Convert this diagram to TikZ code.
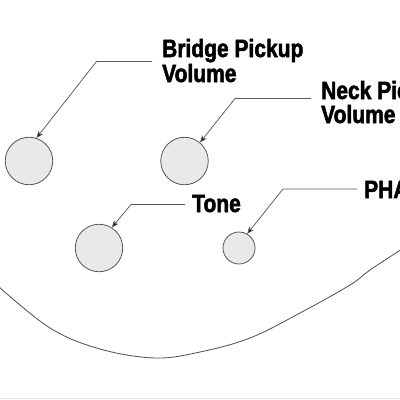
\documentclass[tikz,border=0pt]{standalone}
\usepackage{fontspec}
\newfontfamily\lblfont{Liberation Sans Bold}[FakeStretch=0.84,FakeBold=2]
\usetikzlibrary{arrows.meta}
\definecolor{knobfill}{HTML}{E9E9E9}
\definecolor{knobline}{HTML}{555555}
\definecolor{leadcol}{HTML}{5A5A5A}
\begin{document}
\begin{tikzpicture}[x=1pt,y=-1pt,
  knob/.style={circle,draw=knobline,fill=knobfill,line width=0.8pt,inner sep=0pt,minimum size=#1},
  lbl/.style={anchor=base west,inner sep=0pt,font=\lblfont\fontsize{25}{25}\selectfont,text=black},
  leader/.style={draw=leadcol,line width=0.75pt,-{Stealth[length=7pt,width=5.5pt,inset=1.5pt,fill=black]}}]
\useasboundingbox (0,0) rectangle (400,400);
\begin{scope}
\clip (0,0) rectangle (400,400);
% body outline
\draw[knobline,line width=0.85pt] plot[smooth,tension=0.6] coordinates
  {(-2,286) (50,328) (100,349) (155,358) (200,352) (250,338) (300,313) (350,285) (370,270) (402,249)};
\draw[gray!20,line width=1pt] (0,398.5) -- (400,398.5);
% knobs
\node[knob=47.5pt] (bv) at (29,161) {};
\node[knob=47.5pt] (nv) at (184.5,161) {};
\node[knob=47.5pt] (tn) at (99,248) {};
\node[knob=32pt] (ph) at (239,248) {};
% labels
\node[lbl] (bvt1) at (162,57) {Bridge Pickup};
\node[lbl] (bvt2) at (162,82) {Volume};
\node[lbl] (nvt1) at (321,99) {Neck Pickup};
\node[lbl] (nvt2) at (321,123) {Volume};
\node[lbl] (tnt) at (192,212) {Tone};
\node[lbl] (pht) at (364,198) {PHASE};
% leader coordinates
\coordinate (bvA) at (152,61.5);
\coordinate (bvB) at (96.5,61.5);
\coordinate (nvA) at (311,98.5);
\coordinate (nvB) at (235,98.5);
\coordinate (tnA) at (185,204.5);
\coordinate (tnB) at (131,204.5);
\coordinate (phA) at (357,189);
\coordinate (phB) at (283,189);
\draw[leader] (bvA) -- (bvB) -- (bv.72);
\draw[leader] (nvA) -- (nvB) -- (nv.50);
\draw[leader] (tnA) -- (tnB) -- (tn.58);
\draw[leader] (phA) -- (phB) -- (ph.60);
\end{scope}
\end{tikzpicture}
\end{document}
